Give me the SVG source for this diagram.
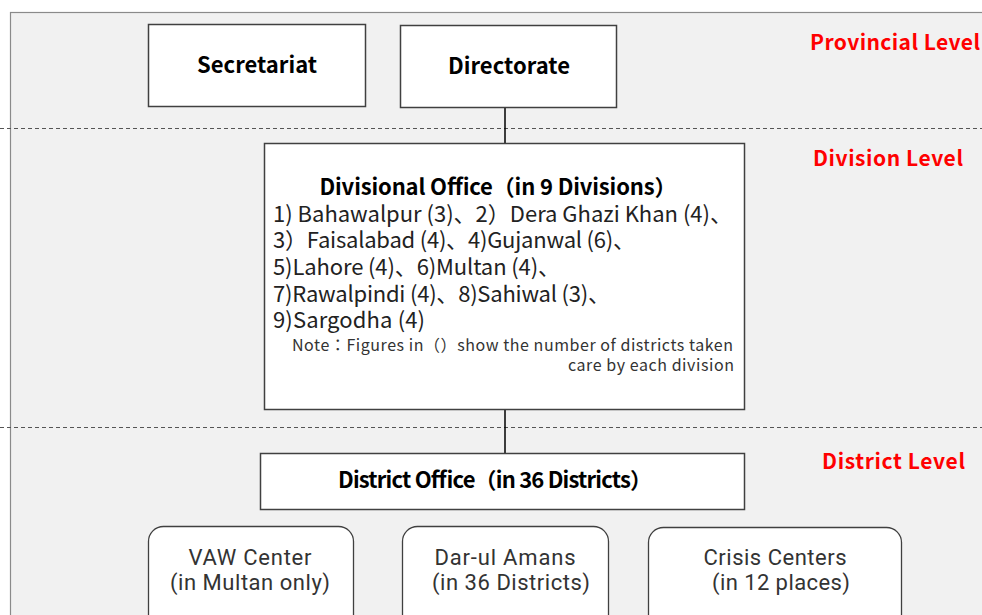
<svg xmlns="http://www.w3.org/2000/svg" width="982" height="615" viewBox="0 0 982 615">
  <style>
    .panel { fill: #f1f1f1; stroke: #8a8a8a; stroke-width: 1.2; }
    .box { fill: #ffffff; stroke: #404040; stroke-width: 1.5; }
    .rbox { fill: #ffffff; stroke: #404040; stroke-width: 1.3; }
    .sep { stroke: #555555; stroke-width: 1.2; stroke-dasharray: 4 3; fill: none; }
    .link { stroke: #000000; stroke-width: 1.5; fill: none; }
    text { font-family: "Noto Sans CJK JP", "Noto Sans", "Liberation Sans", sans-serif; }
    .head { font-size: 22px; font-weight: bold; fill: #000000; }
    .level { font-size: 21px; font-weight: bold; fill: #ff0000; }
    .body { font-size: 22px; fill: #222222; }
    .note { font-size: 16px; fill: #333333; }
    .sub { font-family: Roboto, "Noto Sans CJK JP", sans-serif; font-size: 22px; fill: #333333; }
  </style>

  <!-- background panel and level separators -->
  <rect class="panel" x="10.5" y="12.5" width="990" height="620"/>
  <line class="sep" x1="0" y1="128.5" x2="982" y2="128.5"/>
  <line class="sep" x1="0" y1="427.5" x2="982" y2="427.5"/>

  <!-- level labels -->
  <text class="level" x="810" y="50" textLength="170">Provincial Level</text>
  <text class="level" x="813" y="166" textLength="150">Division Level</text>
  <text class="level" x="822" y="469" textLength="143">District Level</text>

  <!-- connectors -->
  <g id="connectors">
    <line class="link" x1="505" y1="107" x2="505" y2="143"/>
    <line class="link" x1="505" y1="409" x2="505" y2="453"/>
  </g>

  <g id="secretariat">
    <rect class="box" x="148.5" y="24.5" width="217" height="82"/>
    <text class="head" x="257" y="73" text-anchor="middle" textLength="120">Secretariat</text>
  </g>

  <g id="directorate">
    <rect class="box" x="400.5" y="25.5" width="216" height="82"/>
    <text class="head" x="509" y="74" text-anchor="middle" textLength="122">Directorate</text>
  </g>

  <g id="divisional-office">
    <rect class="box" x="264.5" y="143.5" width="480" height="266"/>
    <text class="head" x="498" y="195" text-anchor="middle" textLength="357">Divisional Office（in 9 Divisions）</text>
    <text class="body" x="273" y="222" textLength="459">1) Bahawalpur (3)、2）Dera Ghazi Khan (4)、</text>
    <text class="body" x="273" y="248" textLength="362">3）Faisalabad (4)、4)Gujanwal (6)、</text>
    <text class="body" x="273" y="275" textLength="287">5)Lahore (4)、6)Multan (4)、</text>
    <text class="body" x="273" y="302" textLength="337">7)Rawalpindi (4)、8)Sahiwal (3)、</text>
    <text class="body" x="273" y="328" textLength="152">9)Sargodha (4)</text>
    <text class="note" x="292" y="351" textLength="441">Note：Figures in（）show the number of districts taken</text>
    <text class="note" x="734" y="371" text-anchor="end" textLength="166">care by each division</text>
  </g>

  <g id="district-office">
    <rect class="box" x="260.5" y="453.5" width="484" height="56"/>
    <text class="head" x="495" y="488" text-anchor="middle" textLength="314">District Office（in 36 Districts）</text>
  </g>

  <g id="vaw-center">
    <rect class="rbox" x="148.5" y="526.5" width="205" height="110" rx="15"/>
    <text class="sub" x="250" y="565" text-anchor="middle" textLength="123">VAW Center</text>
    <text class="sub" x="250" y="590" text-anchor="middle" textLength="160">(in Multan only)</text>
  </g>

  <g id="dar-ul-amans">
    <rect class="rbox" x="402.5" y="526.5" width="206" height="110" rx="15"/>
    <text class="sub" x="505" y="565" text-anchor="middle" textLength="141">Dar-ul Amans</text>
    <text class="sub" x="511" y="590" text-anchor="middle" textLength="158">(in 36 Districts)</text>
  </g>

  <g id="crisis-centers">
    <rect class="rbox" x="648.5" y="527.5" width="253" height="110" rx="15"/>
    <text class="sub" x="775" y="565" text-anchor="middle" textLength="143">Crisis Centers</text>
    <text class="sub" x="781" y="590" text-anchor="middle" textLength="138">(in 12 places)</text>
  </g>
</svg>
